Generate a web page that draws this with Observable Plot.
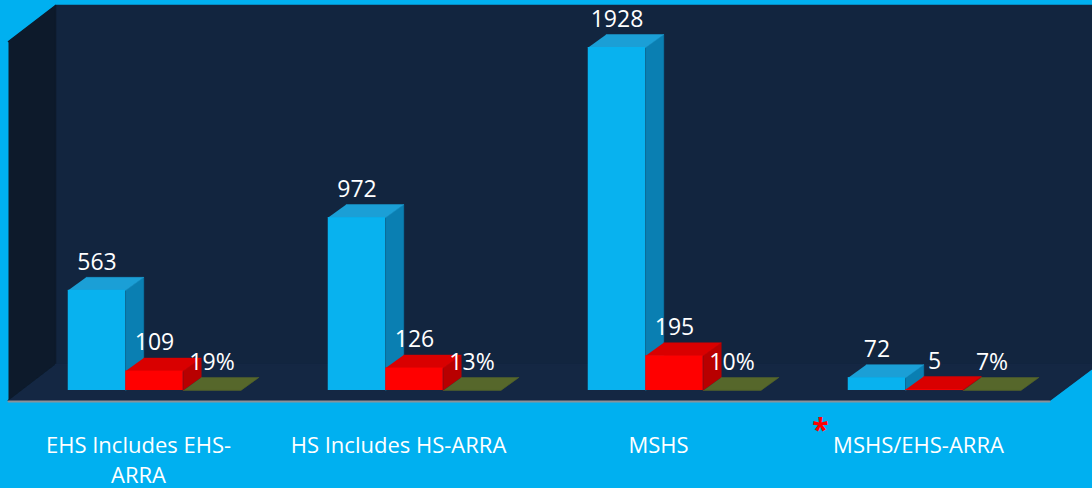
<!DOCTYPE html>
<html><head><meta charset="utf-8">
<script src="https://cdn.jsdelivr.net/npm/d3@7"></script>
<script src="https://cdn.jsdelivr.net/npm/@observablehq/plot@0.6"></script>
<style>html,body{margin:0;padding:0;background:#00b0f0;overflow:hidden}</style>
</head><body><div id="chart"></div>
<script>
// ---- data ----
const categories = ["EHS Includes EHS-ARRA", "HS Includes HS-ARRA", "MSHS", "MSHS/EHS-ARRA"];
const tickLabels = ["EHS Includes EHS-\nARRA", "HS Includes HS-ARRA", "MSHS", "MSHS/EHS-ARRA"];
const countA = [563, 972, 1928, 72];     // cyan series
const countB = [109, 126, 195, 5];       // red series
const percent = [0.19, 0.13, 0.10, 0.07]; // olive series (shown as %)

// ---- geometry / style ----
const W = 1092, H = 488;
const xRange = [154, 934], yRange = [390, 47];
const yMax = 1928;
const pxX = 3 / (xRange[1] - xRange[0]);          // data units per px (x)
const pxY = yMax / (yRange[0] - yRange[1]);        // data units per px (y)
const bw = 57.5 * pxX;                               // bar width
const dX = 18 * pxX, dY = 13 * pxY;                  // bar depth offset
const xi = p => (p - xRange[0]) * pxX;               // px -> data helpers (decor)
const yi = p => (yRange[0] - p) * pxY;

const series = [
  {values: countA, front: "#08b2ef", top: "#1b9fd6", side: "#0a7fb2", fmt: d => String(d)},
  {values: countB, front: "#ff0000", top: "#d90000", side: "#b80000", fmt: d => String(d)},
  {values: percent, front: "#55662a", top: "#56672b", side: "#4a5a24", fmt: d => Math.round(d * 100) + "%"}
];

function build(s, j) {
  const fronts = [], tops = [], sides = [], labels = [];
  s.values.forEach((v, i) => {
    const x0 = i + (j - 1.5) * bw, x1 = x0 + bw;
    fronts.push({x0, x1, v});
    const id = i;
    [[x0, v], [x1, v], [x1 + dX, v + dY], [x0 + dX, v + dY]].forEach(([x, y]) => tops.push({id, x, y}));
    [[x1, 0], [x1, v], [x1 + dX, v + dY], [x1 + dX, dY]].forEach(([x, y]) => sides.push({id, x, y}));
    labels.push({x: (x0 + x1) / 2, y: v, text: s.fmt(v)});
  });
  return {fronts, tops, sides, labels};
}

const poly = (pts, id) => pts.map(([xp, yp]) => ({id, x: xi(xp), y: yi(yp)}));
const backWall = poly([[55, 5], [1100, 5], [1100, 364], [55, 364]], 0);
const leftWall = poly([[8, 41], [55, 5], [55, 364], [8, 400]], 0);
const floor = poly([[8, 400], [1049, 400], [1097, 364], [55, 364]], 0);
const edge = poly([[8, 401], [1049, 401]], 0);

const marks = [
  Plot.line(backWall, {x: "x", y: "y", z: "id", fill: "#12253f", stroke: "#12253f"}),
  Plot.line(leftWall, {x: "x", y: "y", z: "id", fill: "#0d1a2b", stroke: "#0d1a2b"}),
  Plot.line(floor, {x: "x", y: "y", z: "id", fill: "#142743", stroke: "#142743"}),
  Plot.line(edge, {x: "x", y: "y", stroke: "#8a9199", strokeWidth: 2})
];

const allLabels = [];
series.forEach((s, j) => {
  const b = build(s, j);
  marks.push(
    Plot.line(b.sides, {x: "x", y: "y", z: "id", fill: s.side, stroke: s.side, strokeWidth: 0.5}),
    Plot.line(b.tops, {x: "x", y: "y", z: "id", fill: s.top, stroke: s.top, strokeWidth: 0.5}),
    Plot.rect(b.fronts, {x1: "x0", x2: "x1", y1: 0, y2: "v", fill: s.front, insetLeft: 0, insetRight: 0})
  );
  allLabels.push(...b.labels);
});

marks.push(
  Plot.text(allLabels, {x: "x", y: "y", text: "text", dy: -28, fill: "white", fontSize: 23}),
  Plot.text(categories, {x: (d, i) => i, y: 0, text: (d, i) => tickLabels[i], dx: -16, dy: 41,
    lineAnchor: "top", lineHeight: 1.38, fill: "white", fontSize: 22}),
  Plot.text([categories.length - 1], {x: d => d, y: 0, text: () => "*", dx: -114, dy: 40,
    fill: "#ff0000", fontSize: 30, fontWeight: "bold"})
);

const chart = Plot.plot({
  width: W, height: H,
  marginTop: 0, marginRight: 0, marginBottom: 0, marginLeft: 0,
  x: {type: "linear", domain: [0, 3], range: xRange, axis: null},
  y: {type: "linear", domain: [0, yMax], range: yRange, axis: null},
  style: {background: "#00b0f0", fontFamily: "'Open Sans', sans-serif", overflow: "hidden"},
  marks
});
document.getElementById("chart").append(chart);
</script>
</body></html>
